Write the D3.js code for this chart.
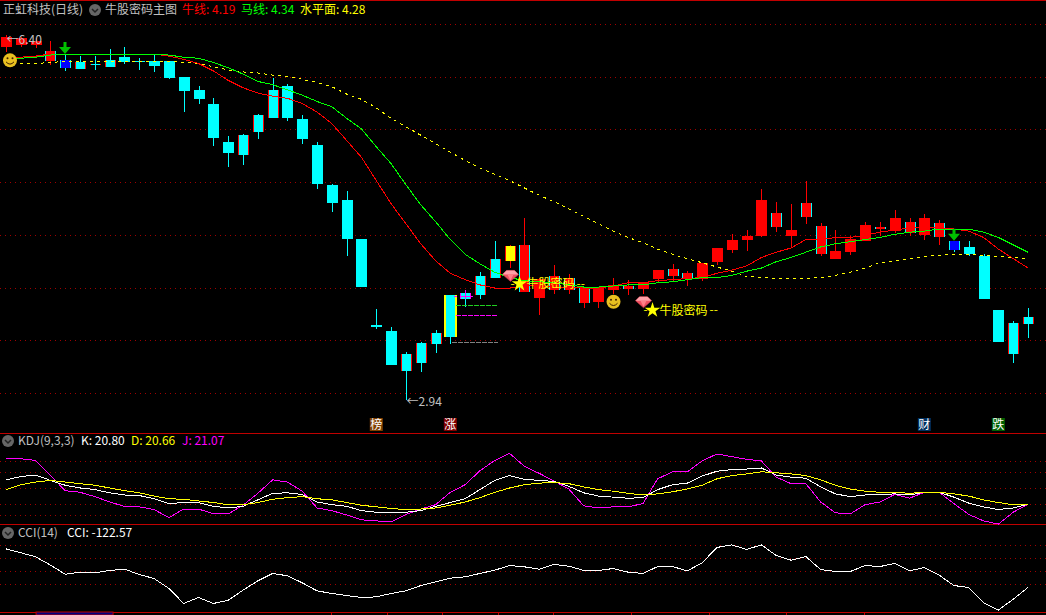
<!DOCTYPE html>
<html>
<head>
<meta charset="utf-8">
<script src="https://cdn.jsdelivr.net/npm/d3@7"></script>
<style>
  html, body { margin: 0; padding: 0; background: #000; overflow: hidden; }
  svg { display: block; }
  text { font-family: "Noto Sans CJK SC", "Liberation Sans", sans-serif; }
</style>
</head>
<body>
<svg width="1046" height="615"></svg>
<script>
// price bars, one entry per trading day
const opens = [6.29,6.31,6.31,6.15,6.16,6.14,6.13,6.16,6.19,6.15,6.15,6.15,6.00,5.88,5.75,5.39,5.45,5.64,5.88,5.92,5.60,5.36,4.98,4.84,4.47,3.65,3.59,3.37,3.48,3.57,3.93,3.95,4.11,4.28,4.26,3.96,3.91,3.98,3.98,3.86,3.87,3.98,3.99,3.99,4.09,4.11,4.09,4.09,4.25,4.36,4.46,4.49,4.58,4.49,4.67,4.32,4.28,4.34,4.45,4.56,4.54,4.52,4.50,4.48,4.45,4.39,4.30,3.79,3.67,3.73];
const closes = [6.38,6.37,6.34,6.25,6.09,6.08,6.12,6.10,6.14,6.14,6.11,5.99,5.87,5.79,5.42,5.28,5.26,5.48,5.61,5.61,5.41,4.99,4.81,4.47,4.01,3.63,3.27,3.21,3.29,3.47,3.54,3.90,3.93,4.10,4.40,4.41,4.09,4.11,4.10,4.00,4.00,4.03,4.02,4.06,4.17,4.18,4.14,4.24,4.38,4.46,4.49,4.84,4.71,4.55,4.81,4.59,4.35,4.47,4.60,4.58,4.66,4.63,4.66,4.62,4.36,4.32,3.90,3.49,3.37,3.66];
const highs = [6.40,6.38,6.37,6.34,6.22,6.20,6.20,6.27,6.29,6.18,6.21,6.15,6.00,5.92,5.80,5.44,5.46,5.65,5.99,5.94,5.64,5.39,4.99,4.92,4.47,3.80,3.63,3.39,3.49,3.60,3.93,3.98,4.15,4.45,4.41,4.66,4.10,4.22,4.13,4.00,4.00,4.10,4.08,4.06,4.17,4.23,4.16,4.24,4.38,4.51,4.55,4.94,4.82,4.80,5.02,4.62,4.55,4.49,4.63,4.63,4.74,4.66,4.70,4.65,4.45,4.45,4.32,3.79,3.69,3.81];
const lows = [6.24,6.29,6.28,6.12,6.06,6.08,6.07,6.10,6.13,6.07,6.05,5.98,5.67,5.75,5.35,5.15,5.17,5.41,5.61,5.58,5.37,4.94,4.72,4.30,4.01,3.61,3.27,2.94,3.20,3.38,3.47,3.82,3.90,4.10,4.19,3.96,3.74,3.94,3.94,3.81,3.81,3.94,3.93,3.94,4.05,4.07,4.02,4.07,4.22,4.33,4.35,4.48,4.53,4.39,4.61,4.30,4.28,4.31,4.45,4.49,4.52,4.49,4.46,4.41,4.34,4.30,3.90,3.49,3.29,3.53];

// signal class of each bar: "" plain, x crossed edge, b blue, g gold edge, m magenta edge, y gold body
const barClass = ["","","","x","b","x","x","x","","","","","","","","","x","x","x","","","","","","","","","x","x","x","g","m","x","x","y","x","","x","x","x","","","x","","","x","x","","","","","","x","","x","x","","","","x","","x","","x","b","","","","x","x"];

// main chart lines
const niuLine = [6.19,6.19,6.20,6.22,6.22,6.22,6.22,6.22,6.22,6.22,6.22,6.20,6.17,6.13,6.06,5.97,5.90,5.85,5.82,5.80,5.75,5.67,5.56,5.40,5.24,5.02,4.80,4.61,4.42,4.26,4.14,4.08,4.03,4.00,4.00,4.02,4.02,4.01,4.01,4.00,4.00,4.02,4.05,4.05,4.07,4.08,4.09,4.10,4.14,4.17,4.21,4.29,4.34,4.38,4.46,4.46,4.48,4.48,4.50,4.53,4.55,4.57,4.58,4.57,4.56,4.54,4.48,4.37,4.28,4.19];
const maLine = [6.18,6.18,6.19,6.21,6.22,6.22,6.22,6.22,6.22,6.22,6.22,6.21,6.19,6.18,6.14,6.09,6.03,5.96,5.93,5.88,5.83,5.77,5.72,5.61,5.51,5.34,5.18,4.98,4.79,4.63,4.46,4.32,4.23,4.15,4.10,4.07,4.06,4.05,4.03,4.01,4.01,4.02,4.03,4.03,4.05,4.06,4.08,4.10,4.10,4.12,4.16,4.19,4.25,4.29,4.34,4.39,4.42,4.44,4.46,4.48,4.51,4.53,4.54,4.56,4.56,4.56,4.53,4.48,4.41,4.34];
const levelLine = [6.13,6.13,6.13,6.14,6.15,6.15,6.15,6.15,6.15,6.15,6.15,6.15,6.14,6.13,6.10,6.07,6.05,6.04,6.02,6.01,5.98,5.95,5.91,5.84,5.79,5.71,5.61,5.53,5.45,5.37,5.29,5.21,5.14,5.08,5.02,4.95,4.88,4.82,4.75,4.68,4.61,4.54,4.48,4.43,4.37,4.32,4.28,4.24,4.20,4.16,4.11,4.10,4.09,4.09,4.09,4.10,4.12,4.15,4.19,4.24,4.26,4.28,4.30,4.31,4.32,4.32,4.31,4.30,4.29,4.28];

// KDJ panel
const kLine = [66,72,75,65,56,51,48,42,38,37,31,22,24,24,17,14,17,29,41,42,39,25,20,17,9,6,5,6,9,17,24,31,48,65,74,67,65,63,54,42,36,34,32,33,48,57,60,73,82,85,86,88,75,71,69,53,40,35,38,39,40,38,43,43,34,23,16,11,14,20.80];
const dLine = [48,57,62,65,62,59,56,51,46,42,36,31,30,27,24,20,20,24,30,33,35,31,29,24,19,16,13,11,12,14,19,25,33,43,51,57,60,61,59,53,48,45,41,38,40,44,49,56,68,74,77,81,79,77,74,66,56,49,45,43,43,41,43,43,40,36,29,24,20,20.66];
const jLine = [105,105,102,74,46,43,35,25,17,16,11,-4,12,12,3,3,19,41,66,62,45,14,9,1,-8,-10,-12,2,12,20,43,57,83,102,115,91,78,64,49,18,14,16,16,22,68,81,81,101,114,109,104,101,71,59,59,25,5,3,20,25,39,32,43,43,22,2,-10,-16,6,21.07];

// CCI panel
const cciLine = [174,144,113,49,-21,-5,-10,8,18,-23,-54,-131,-246,-200,-246,-221,-144,-72,-15,-33,-87,-149,-169,-185,-200,-195,-169,-149,-108,-79,-51,-41,-15,10,46,36,18,54,41,8,8,23,-5,-15,38,38,5,67,185,205,169,205,123,87,115,15,0,0,46,38,62,5,31,-28,-108,-123,-241,-297,-213,-122.57];

// grid levels
const priceGrid = [3,3.5,4,4.5,5,5.5,6,6.5];
const kdjGrid = [0,20,50,80,100];
const cciGrid = [-100,0,100,200];

// annotations
const sellArrows = [4,64];
const smiles = [[0,6.16],[41,3.87]];
const diamonds = [[34,4.12],[43,3.87]];
const slogans = [[34,4.04],[43,3.79]];
const priceFlags = [[0,6.40],[27,2.94]];
const levelMarks = [[3.84,"#20d020"],[3.74,"#ff00ff"],[3.49,"#808080"]];
const newsTags = [[25,"榜","#804000"],[30,"涨","#800000"],[62,"财","#003060"],[67,"跌","#006000"]];
const dateTicks = [21.95,25.73,29.44,33.22,36.93,42.2,47.47,52.67,57.93];

const svg = d3.select("svg");
const RED = "#ff0000", CYAN = "#00ffff", YELLOW = "#ffff00", GREEN = "#00ff00", MAGENTA = "#ff00ff";

const x = d3.scaleLinear().domain([0, opens.length - 1]).range([6, 1028]);
const y = d3.scaleLinear().domain([3, 6.5]).range([393.5, 24.5]);
const yKdj = d3.scaleLinear().domain([0, 100]).range([515.5, 461.5]);
const yCci = d3.scaleLinear().domain([-100, 200]).range([584.5, 545.5]);
const px = i => Math.round(x(i)) + 0.5;

// dotted grid, done with an axis so the ticks come from the scale
function grid(scale, values) {
  svg.append("g")
    .call(d3.axisRight(scale).tickValues(values).tickSize(1046).tickFormat("").offset(0))
    .call(g => g.select(".domain").remove())
    .selectAll("line")
    .attr("stroke", "#a00000")
    .attr("stroke-dasharray", "1,4")
    .attr("shape-rendering", "crispEdges");
}
grid(y, priceGrid);
grid(yKdj, kdjGrid);
grid(yCci, cciGrid);

// panel borders
[0.5, 433.5, 524.5, 612.5].forEach(v => {
  svg.append("line").attr("x1", 0).attr("x2", 1046).attr("y1", v).attr("y2", v)
    .attr("stroke", "#c00000").attr("shape-rendering", "crispEdges");
});
svg.append("rect").attr("x", x(2.03)).attr("y", 612).attr("width", x(7.23) - x(2.03)).attr("height", 3)
  .attr("fill", "#000080").attr("stroke", "#c00000");
svg.selectAll(".dateTick").data(dateTicks).join("line")
  .attr("x1", d => Math.round(x(d)) + 0.5).attr("x2", d => Math.round(x(d)) + 0.5)
  .attr("y1", 612).attr("y2", 615)
  .attr("stroke", "#c00000").attr("shape-rendering", "crispEdges");

// candles
const bars = svg.append("g").attr("shape-rendering", "crispEdges");
opens.forEach((open, i) => {
  const close = closes[i], cls = barClass[i];
  const up = close >= open;
  let fill = up ? RED : CYAN;
  let edge = fill;
  if (cls === "x") edge = up ? CYAN : RED;
  if (cls === "b") { fill = "#0000ff"; edge = CYAN; }
  if (cls === "g") edge = YELLOW;
  if (cls === "m") edge = MAGENTA;
  if (cls === "y") { fill = YELLOW; edge = RED; }
  const top = Math.round(y(Math.max(open, close)));
  const h = Math.max(1, Math.round(y(Math.min(open, close))) - top);
  bars.append("line").attr("x1", px(i)).attr("x2", px(i))
    .attr("y1", y(highs[i])).attr("y2", y(lows[i]))
    .attr("stroke", cls === "y" ? RED : (up ? RED : CYAN));
  const half = cls === "g" ? 6 : 5;
  bars.append("rect").attr("x", px(i) - 0.5 - half).attr("y", top).attr("width", half * 2 + 1).attr("height", h).attr("fill", edge);
  const e = cls === "g" ? 2 : 1;
  bars.append("rect").attr("x", px(i) - 0.5 - half + e).attr("y", top).attr("width", half * 2 + 1 - e * 2).attr("height", h).attr("fill", fill);
});

// magenta cross on the day after the big bar
const crossDay = barClass.indexOf("m");
const crossY = Math.round(y((opens[crossDay] + closes[crossDay]) / 2)) + 0.5;
bars.append("line").attr("x1", px(crossDay) - 12).attr("x2", px(crossDay) - 9).attr("y1", crossY).attr("y2", crossY).attr("stroke", MAGENTA);
bars.append("line").attr("x1", px(crossDay) - 6).attr("x2", px(crossDay) + 7).attr("y1", crossY).attr("y2", crossY).attr("stroke", MAGENTA);
bars.append("line").attr("x1", px(crossDay)).attr("x2", px(crossDay)).attr("y1", y(highs[crossDay])).attr("y2", crossY + 2).attr("stroke", MAGENTA);

// dashed stop levels next to the big bar
const bigBar = barClass.indexOf("g");
levelMarks.forEach(([price, color], n) => {
  svg.append("line").attr("x1", px(bigBar) + (n === 2 ? 1 : 5)).attr("x2", px(bigBar) + 47)
    .attr("y1", Math.round(y(price)) + 0.5).attr("y2", Math.round(y(price)) + 0.5)
    .attr("stroke", color).attr("stroke-dasharray", "5,1").attr("shape-rendering", "crispEdges");
});

// overlaid lines
function drawLine(values, scale, color, dash) {
  const line = d3.line().x((d, i) => x(i)).y(d => scale(d));
  const p = svg.append("path").datum(values).attr("fill", "none").attr("d", line)
    .attr("stroke", color).attr("stroke-width", 1).attr("shape-rendering", "crispEdges");
  if (dash) p.attr("stroke-dasharray", dash);
}
drawLine(levelLine, y, YELLOW, "3,4");
drawLine(niuLine, y, RED);
drawLine(maLine, y, GREEN);
drawLine(jLine, yKdj, MAGENTA);
drawLine(kLine, yKdj, "#ffffff");
drawLine(dLine, yKdj, YELLOW);
drawLine(cciLine, yCci, "#ffffff");

// sell arrows sit on top of the bar's high
sellArrows.forEach(i => {
  const tip = y(highs[i]), cx = px(i) - 0.5;
  svg.append("path")
    .attr("d", `M${cx},${tip} L${cx - 6},${tip - 7} H${cx - 1.5} V${tip - 12} H${cx + 1.5} V${tip - 7} H${cx + 6} Z`)
    .attr("fill", "#00c000");
});

// smiley faces
smiles.forEach(([i, price]) => {
  const cx = Math.max(px(i), 10), cy = y(price);
  const g = svg.append("g").attr("transform", `translate(${cx},${cy})`);
  g.append("circle").attr("r", 7).attr("fill", "#e8c020");
  g.append("circle").attr("cx", -2.5).attr("cy", -2).attr("r", 1).attr("fill", "#402000");
  g.append("circle").attr("cx", 2.5).attr("cy", -2).attr("r", 1).attr("fill", "#402000");
  g.append("path").attr("d", "M-4,1.5 Q0,6 4,1.5").attr("fill", "none").attr("stroke", "#402000");
});

// ruby icon
diamonds.forEach(([i, price]) => {
  const g = svg.append("g").attr("transform", `translate(${px(i)},${y(price)})`);
  g.append("path").attr("d", "M-4,-5 H4 L8,-1 L0,6 L-8,-1 Z").attr("fill", "#f05060").attr("stroke", "#c03040").attr("stroke-width", 0.6);
  g.append("path").attr("d", "M-4,-5 H4 L8,-1 H-8 Z").attr("fill", "#ffa0a8");
  g.append("path").attr("d", "M-3,-1 H3 L0,5 Z").attr("fill", "#ff8088");
});

// star slogans
slogans.forEach(([i, price]) => {
  const g = svg.append("g").attr("transform", `translate(${px(i)},${y(price)})`);
  g.append("path").attr("transform", "translate(9,0)").attr("d", d3.symbol(d3.symbolStar, 75)()).attr("fill", YELLOW);
  g.append("text").attr("x", 0).attr("y", 4).attr("fill", YELLOW).attr("font-size", 12).text("-");
  g.append("text").attr("x", 16).attr("y", 4.5).attr("fill", YELLOW).attr("font-size", 12).text("牛股密码");
  g.append("text").attr("x", 66).attr("y", 4).attr("fill", YELLOW).attr("font-size", 12).text("--");
});

// high and low flags, the top one sits a little under its high so it stays clear of the strip
priceFlags.forEach(([i, price], n) => {
  svg.append("text").attr("x", px(i)).attr("y", y(price) + (n === 0 ? 9 : 6))
    .attr("fill", "#c0c0c0").attr("font-size", 12).attr("font-family", "Liberation Sans")
    .text("←" + price.toFixed(2));
});

// news tags along the bottom of the main chart
newsTags.forEach(([i, label, color]) => {
  svg.append("rect").attr("x", x(i) - 6.5).attr("y", 418).attr("width", 13).attr("height", 13).attr("fill", color);
  svg.append("text").attr("x", x(i)).attr("y", 429).attr("text-anchor", "middle")
    .attr("fill", "#ffffff").attr("font-size", 12).text(label);
});

// title strip items
function label(xPos, yPos, color, str) {
  svg.append("text").attr("x", xPos).attr("y", yPos).attr("fill", color).attr("font-size", 12).text(str);
}
function chevron(cx, cy) {
  svg.append("circle").attr("cx", cx).attr("cy", cy).attr("r", 6).attr("fill", "#666666");
  svg.append("path").attr("d", `M${cx - 3},${cy - 1} L${cx},${cy + 2} L${cx + 3},${cy - 1}`)
    .attr("fill", "none").attr("stroke", "#222222").attr("stroke-width", 1.5);
}
label(3, 14, "#c0c0c0", "正虹科技(日线)");
chevron(95, 10);
label(105, 14, "#c0c0c0", "牛股密码主图");
label(182, 14, RED, "牛线: " + niuLine[niuLine.length - 1].toFixed(2));
label(241, 14, GREEN, "马线: " + maLine[maLine.length - 1].toFixed(2));
label(300, 14, YELLOW, "水平面: " + levelLine[levelLine.length - 1].toFixed(2));

chevron(8, 441);
label(18, 445, "#c0c0c0", "KDJ(9,3,3)");
label(81, 445, "#ffffff", "K: " + kLine[kLine.length - 1].toFixed(2));
label(131, 445, YELLOW, "D: " + dLine[dLine.length - 1].toFixed(2));
label(182, 445, MAGENTA, "J: " + jLine[jLine.length - 1].toFixed(2));

chevron(8, 533);
label(18, 537, "#c0c0c0", "CCI(14)");
label(67, 537, "#ffffff", "CCI: " + cciLine[cciLine.length - 1].toFixed(2));
</script>
</body>
</html>
